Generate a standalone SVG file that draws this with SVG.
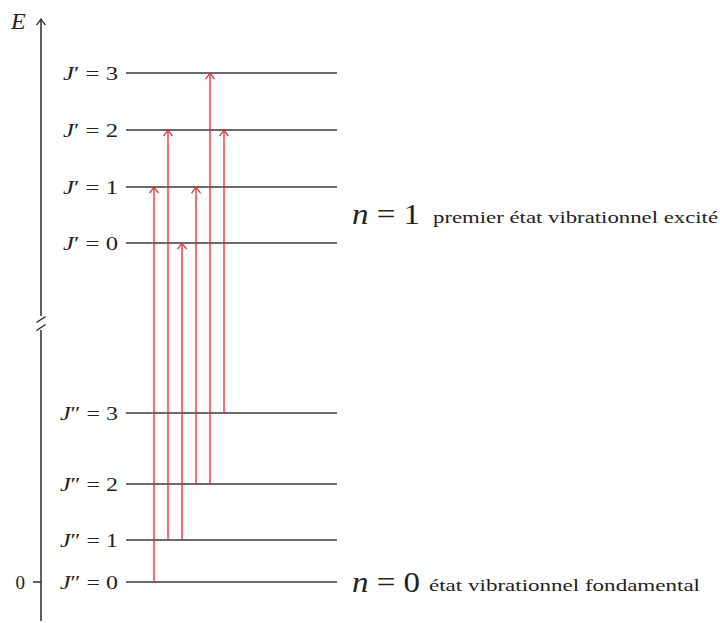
<svg xmlns="http://www.w3.org/2000/svg" width="720" height="623" viewBox="0 0 720 623">
<defs>
<style>
.lvl{stroke:#3a3a3a;stroke-width:1.6;fill:none}
.ax{stroke:#2a2a2a;stroke-width:1.5;fill:none}
.tr{stroke:#e8262b;stroke-width:1.3;fill:none;marker-end:url(#ah)}
.lab{font-family:"Liberation Serif","DejaVu Serif",serif;font-size:19px;fill:#222;text-anchor:end}
.big{font-family:"Liberation Serif","DejaVu Serif",serif;font-size:30px;fill:#222}
.desc{font-family:"Liberation Serif","DejaVu Serif",serif;font-size:17px;fill:#222}
</style>
<marker id="ah" markerWidth="10" markerHeight="12" refX="0" refY="0" orient="auto" markerUnits="userSpaceOnUse" viewBox="-7 -6 8 12">
<path d="M-6,-4.5 Q-2.5,-1.5 0,0 Q-2.5,1.5 -6,4.5" fill="none" stroke="#e8262b" stroke-width="1.2"/>
</marker>
<marker id="axh" markerWidth="10" markerHeight="12" refX="0" refY="0" orient="auto" markerUnits="userSpaceOnUse" viewBox="-7 -6 8 12">
<path d="M-6,-4.5 Q-2.5,-1.5 0,0 Q-2.5,1.5 -6,4.5" fill="none" stroke="#2a2a2a" stroke-width="1.3"/>
</marker>
</defs>

<g id="axis">
<line class="ax" x1="41" y1="316" x2="41" y2="19" marker-end="url(#axh)"/>
<line class="ax" x1="41" y1="330" x2="41" y2="621"/>
<line class="ax" x1="36.5" y1="322.5" x2="45.5" y2="316.5"/>
<line class="ax" x1="36.5" y1="330.5" x2="45.5" y2="324.5"/>
<line class="ax" x1="33" y1="582" x2="41" y2="582"/>
<text x="11" y="29" font-family="'Liberation Serif',serif" font-style="italic" font-size="24" fill="#222">E</text>
<text x="25" y="588.5" class="lab" font-size="18">0</text>
</g>

<g id="upper-levels">
<line class="lvl" x1="126" y1="73" x2="337" y2="73"/>
<line class="lvl" x1="126" y1="130" x2="337" y2="130"/>
<line class="lvl" x1="126" y1="187" x2="337" y2="187"/>
<line class="lvl" x1="126" y1="243" x2="337" y2="243"/>
<text class="lab" x="118" y="80" textLength="55" lengthAdjust="spacingAndGlyphs"><tspan font-style="italic">J</tspan>′ = 3</text>
<text class="lab" x="118" y="137" textLength="55" lengthAdjust="spacingAndGlyphs"><tspan font-style="italic">J</tspan>′ = 2</text>
<text class="lab" x="118" y="194" textLength="55" lengthAdjust="spacingAndGlyphs"><tspan font-style="italic">J</tspan>′ = 1</text>
<text class="lab" x="118" y="250" textLength="55" lengthAdjust="spacingAndGlyphs"><tspan font-style="italic">J</tspan>′ = 0</text>
<text class="big" x="352" y="224" textLength="68" lengthAdjust="spacingAndGlyphs"><tspan font-style="italic">n</tspan> = 1</text>
<text class="desc" x="433" y="223" textLength="285" lengthAdjust="spacingAndGlyphs">premier état vibrationnel excité</text>
</g>

<g id="lower-levels">
<line class="lvl" x1="126" y1="413" x2="337" y2="413"/>
<line class="lvl" x1="126" y1="484" x2="337" y2="484"/>
<line class="lvl" x1="126" y1="540" x2="337" y2="540"/>
<line class="lvl" x1="126" y1="582" x2="337" y2="582"/>
<text class="lab" x="118" y="420" textLength="58" lengthAdjust="spacingAndGlyphs"><tspan font-style="italic">J</tspan>″ = 3</text>
<text class="lab" x="118" y="491" textLength="58" lengthAdjust="spacingAndGlyphs"><tspan font-style="italic">J</tspan>″ = 2</text>
<text class="lab" x="118" y="547" textLength="58" lengthAdjust="spacingAndGlyphs"><tspan font-style="italic">J</tspan>″ = 1</text>
<text class="lab" x="118" y="589" textLength="58" lengthAdjust="spacingAndGlyphs"><tspan font-style="italic">J</tspan>″ = 0</text>
<text class="big" x="352" y="592" textLength="68" lengthAdjust="spacingAndGlyphs"><tspan font-style="italic">n</tspan> = 0</text>
<text class="desc" x="429" y="591" textLength="271" lengthAdjust="spacingAndGlyphs">état vibrationnel fondamental</text>
</g>

<g id="connectors">
<line class="tr" x1="154" y1="582" x2="154" y2="187"/>
<line class="tr" x1="168" y1="540" x2="168" y2="130"/>
<line class="tr" x1="182" y1="540" x2="182" y2="243"/>
<line class="tr" x1="196" y1="484" x2="196" y2="187"/>
<line class="tr" x1="210" y1="484" x2="210" y2="73"/>
<line class="tr" x1="224" y1="413" x2="224" y2="130"/>
</g>
</svg>
